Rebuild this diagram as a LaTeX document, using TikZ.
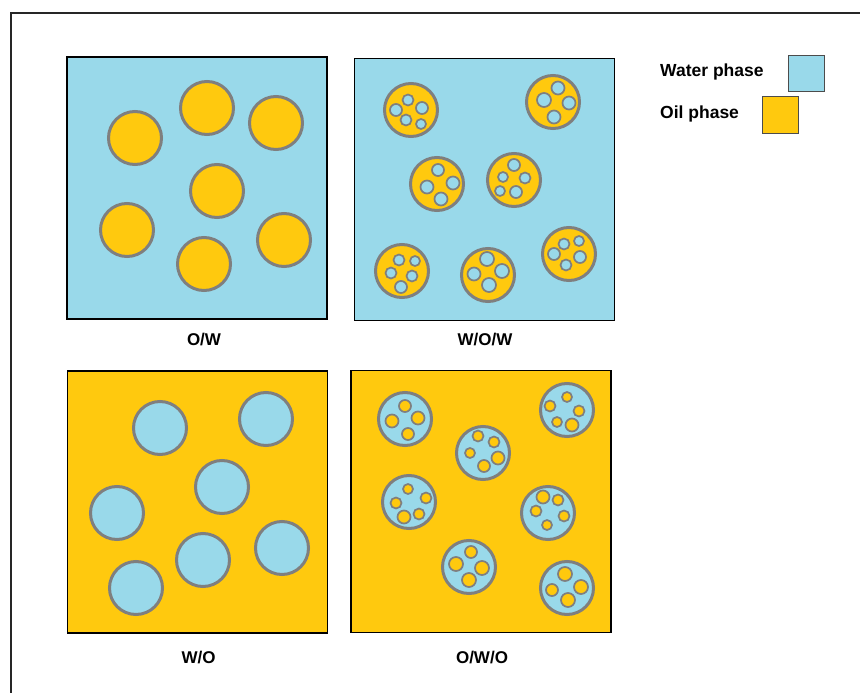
\documentclass[tikz,border=0pt]{standalone}
\usepackage{fontspec}
\setmainfont{Liberation Sans}
\usepackage{tikz}
\usetikzlibrary{positioning}
\definecolor{water}{RGB}{153,217,234}
\definecolor{oil}{RGB}{255,201,14}
\definecolor{rim}{RGB}{127,127,127}
\tikzset{
  panel/.style={rectangle, draw=black, line width=1.8pt, minimum width=260pt, minimum height=262pt, inner sep=0pt},
  drop/.style={draw=rim, line width=3pt},
  tiny/.style={draw=rim, line width=1.7pt},
  keybox/.style={rectangle, draw=black!70, line width=1pt, minimum size=36pt, inner sep=0pt}
}

\begin{document}
\begin{tikzpicture}[
            x=1pt, y=-1pt,
            emtype/.style={font=\bfseries\fontsize{17}{20}\selectfont, anchor=base, inner sep=0pt},
            phase/.style={font=\bfseries\fontsize{17.5}{20}\selectfont, anchor=base west, inner sep=0pt},
            frame/.style={draw=black!85, line width=2pt}
        ]
            \useasboundingbox (0,0) rectangle (860,693);

            % Marco exterior
            \draw [frame] (10.5,693) -- (10.5,13.5) -- (860,13.5);

            % Paneles
            \node (ow) [panel, fill=water] at (197,188) {};
            \node (wow) [panel, fill=water] at (484.5,189.5) {};
            \node (wo) [panel, fill=oil] at (197.5,502) {};
            \node (owo) [panel, fill=oil] at (481,501.5) {};

            % Nombres de las emulsiones
            \node (owname) [emtype] at (204,345) {O/W};
            \node (wowname) [emtype] at (485,345) {W/O/W};
            \node (woname) [emtype] at (198.5,663) {W/O};
            \node (owoname) [emtype] at (482,663) {O/W/O};

            % O/W: gotas de aceite
            \foreach \x/\y in {135/138, 207/108, 276/123, 217/191, 127/230, 204/264, 284/240}
                \draw [drop, fill=oil] (\x,\y) circle (26.5);

            % W/O: gotas de agua
            \foreach \x/\y in {160/428, 266/419, 222/487, 117/513, 203/560, 282/548, 136/588}
                \draw [drop, fill=water] (\x,\y) circle (26.5);

            % W/O/W: gotas de aceite con agua dentro
            \foreach \x/\y in {411/110, 553/102, 437/184, 514/180, 402/271, 488/275, 569/254}
                \draw [drop, fill=oil] (\x,\y) circle (26.5);
            \foreach \x/\y/\r in {408/100/5.5, 396/110/6, 422/108/6, 406/120/5.5, 421/124/5,
                                  558/88/6.5, 544/100/7, 569/103/6.5, 554/117/6.5,
                                  438/170/6, 427/187/6.5, 453/183/6.5, 441/199/6.5,
                                  514/165/6, 503/177/5, 525/178/5.5, 500/191/5, 516/192/6,
                                  399/260/5.5, 415/261/5, 391/273/5.5, 412/276/5.5, 401/287/6,
                                  487/259/7, 474/274/6.5, 502/271/7, 489/285/7,
                                  564/244/5.5, 579/241/5, 554/254/6, 580/257/6, 566/265/5.5}
                \draw [tiny, fill=water] (\x,\y) circle (\r);

            % O/W/O: gotas de agua con aceite dentro
            \foreach \x/\y in {405/419, 567/410, 483/453, 409/502, 548/513, 469/567, 567/588}
                \draw [drop, fill=water] (\x,\y) circle (26.5);
            \foreach \x/\y/\r in {405/406/6, 392/421/6.5, 418/418/6.5, 408/434/6,
                                  567/397/5, 550/406/5.5, 579/411/5.5, 557/422/5, 572/425/6.5,
                                  478/436/5.5, 494/442/5.5, 470/453/5, 498/458/6.5, 484/466/6,
                                  408/489/5, 396/503/5.5, 426/498/5.5, 404/517/6.5, 419/514/5.5,
                                  543/497/6.5, 558/500/5.5, 536/511/5.5, 564/516/5.5, 547/525/5,
                                  471/552/6, 456/564/7, 482/568/7, 469/580/7,
                                  565/574/7, 552/590/6, 581/587/7, 568/600/7}
                \draw [tiny, fill=oil] (\x,\y) circle (\r);

            % Leyenda
            \node (watertext) [phase] at (660,77) {Water phase};
            \node (waterkey) [keybox, fill=water] at (806,74) {};
            \node (oiltext) [phase] at (660,118) {Oil phase};
            \node (oilkey) [keybox, fill=oil] at (780,115) {};

        \end{tikzpicture}
\end{document}
